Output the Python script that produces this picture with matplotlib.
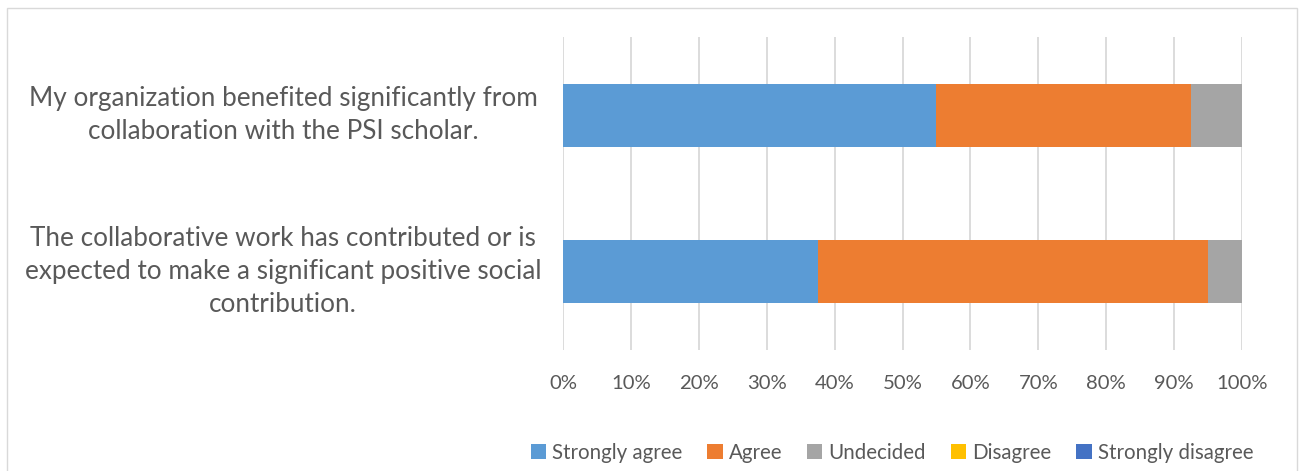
import matplotlib.pyplot as plt
import matplotlib.transforms as mtransforms
from matplotlib.patches import Rectangle
from matplotlib.ticker import PercentFormatter

questions = ["My organization benefited significantly from\ncollaboration with the PSI scholar.",
             "The collaborative work has contributed or is\nexpected to make a significant positive social\ncontribution."]
responses = ["Strongly agree", "Agree", "Undecided", "Disagree", "Strongly disagree"]
strongly_agree = [55.0, 37.5]
agree = [37.5, 57.5]
undecided = [7.5, 5.0]
disagree = [0.0, 0.0]
strongly_disagree = [0.0, 0.0]
colors = ["#5B9BD5", "#ED7D31", "#A5A5A5", "#FFC000", "#4472C4"]

plt.rcParams['font.family'] = ['Lato', 'DejaVu Sans']
text_col = "#595959"

fig = plt.figure(figsize=(12.99, 4.71), dpi=100)
ax = fig.add_axes([563/1299, 1-350/471, (1242-563)/1299, (350-37)/471])

series = [strongly_agree, agree, undecided, disagree, strongly_disagree]
ypos = [0, 1]
left = [0.0, 0.0]
for name, vals, c in zip(responses, series, colors):
    ax.barh(ypos, vals, left=left, height=0.4, color=c, label=name, zorder=3)
    left = [l + v for l, v in zip(left, vals)]

ax.set_xlim(0, 100)
ax.set_ylim(1.5, -0.5)
ax.set_xticks(range(0, 101, 10))
ax.xaxis.set_major_formatter(PercentFormatter(decimals=0))
ax.set_yticks([])
ax.grid(axis='x', color="#D9D9D9", linewidth=1.3, zorder=0)
for s in ax.spines.values():
    s.set_visible(False)
ax.tick_params(axis='x', length=0, pad=18, labelsize=14.6, labelcolor=text_col)

trans = mtransforms.blended_transform_factory(fig.transFigure, ax.transData)
for y, q in zip(ypos, questions):
    ax.text(283/1299, y, q, transform=trans, ha='center', va='center',
            multialignment='center', fontsize=18.8, color=text_col, linespacing=1.4)

leg = fig.legend(loc='center', bbox_to_anchor=(892/1299, 1-453/471), ncol=5, frameon=False,
                 fontsize=14.8, handlelength=0.75, handleheight=0.75, handletextpad=0.3,
                 columnspacing=1.2, labelcolor=text_col)

fig.patches.append(Rectangle((7/1299, -0.1), (1297-7)/1299, 1.1 - 8/471,
                             transform=fig.transFigure, fill=False,
                             edgecolor="#D9D9D9", linewidth=1))

fig.savefig("out.png", dpi=100)
